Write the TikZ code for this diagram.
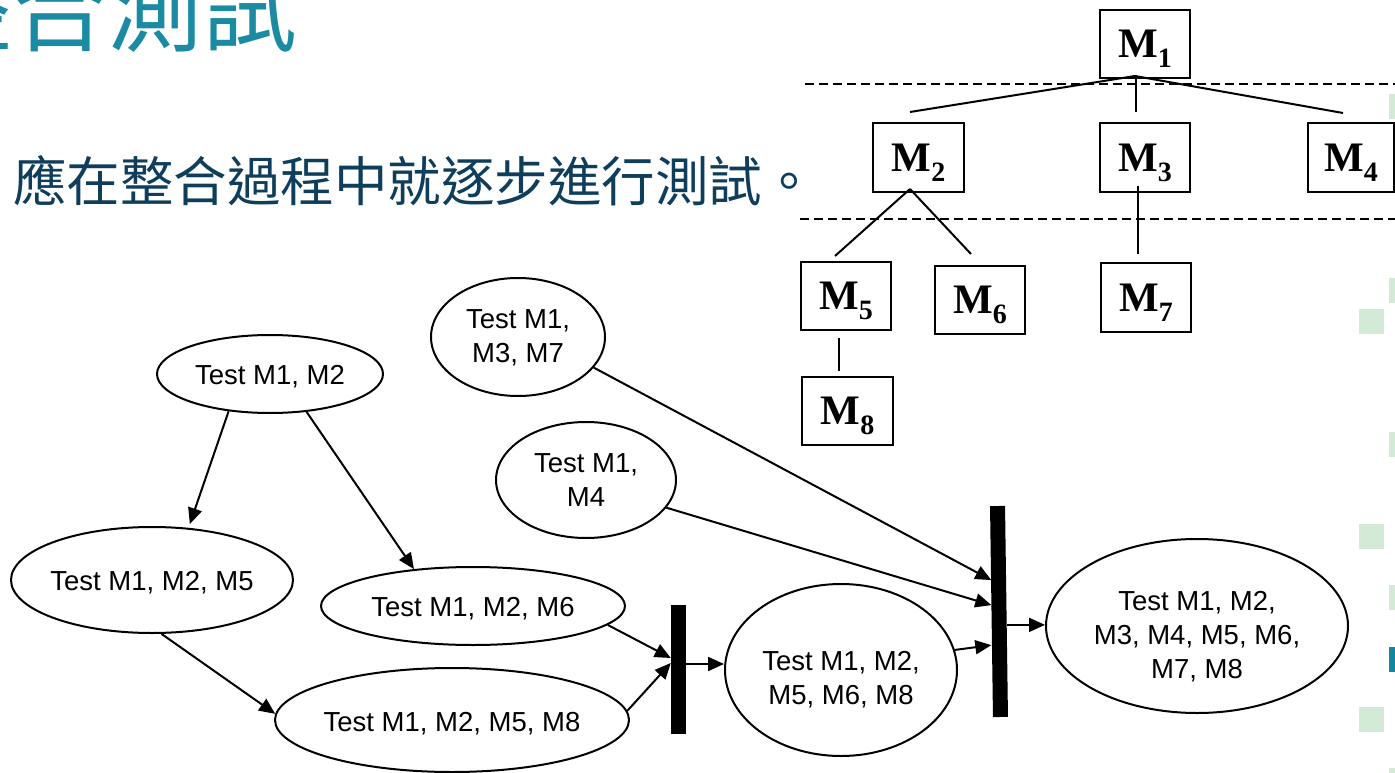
\documentclass[tikz,border=0pt]{standalone}
\usepackage{fontspec}
\setmainfont{Liberation Sans}
\newfontfamily\cjk{Noto Sans CJK TC}
\newfontfamily\tnr{Liberation Serif}
\usetikzlibrary{shapes.geometric,arrows.meta,calc}
\definecolor{titleteal}{HTML}{1A8BA3}
\definecolor{subnavy}{HTML}{0E3E5C}
\definecolor{sqgreen}{HTML}{D3EBD6}
\definecolor{sqteal}{HTML}{13869F}
\newcommand{\et}[2][4pt]{\raisebox{-#1}[\height][\depth]{\makebox[0pt]{\begin{tabular}{@{}c@{}}#2\end{tabular}}}}
\newcommand{\mlab}[1]{{\tnr\bfseries M\smash{\raisebox{-10pt}{\fontsize{28}{28}\selectfont #1}}}}
\begin{document}
\begin{tikzpicture}[x=1pt,y=-1pt,
  ell/.style={ellipse, draw, line width=2pt, inner sep=0pt, font=\fontsize{27.5}{34}\selectfont},
  mbox/.style={draw, line width=2pt, inner sep=0pt, font=\fontsize{42}{48}\selectfont},
  bar/.style={fill=black, inner sep=0pt, minimum width=15pt},
  arr/.style={line width=2pt, -{Triangle[length=16pt,width=14pt]}},
  tline/.style={line width=2pt},
  dline/.style={line width=2pt, dash pattern=on 9pt off 5pt},
]
\useasboundingbox (0,0) rectangle (1395,773);
\clip (0,0) rectangle (1395,773);

% decorative squares on right edge
\foreach \x/\y/\c in {1389/94/sqgreen, 1389/278/sqgreen, 1359/309/sqgreen, 1389/432/sqgreen,
  1359/524/sqgreen, 1389/585/sqgreen, 1389/647/sqteal, 1359/707/sqgreen, 1389/768/sqgreen}
  \fill[\c] (\x,\y) rectangle ++(25,25);

% title and subtitle
\node[anchor=base west, inner sep=0pt, font=\cjk\fontsize{95}{95}\selectfont, text=titleteal] (title) at (-82.5,45) {整合測試};
\node[anchor=base west, inner sep=0pt, font=\cjk\fontsize{53.5}{53.5}\selectfont, text=subnavy] (sub) at (13,201) {應在整合過程中就逐步進行測試。};

% tree
\node[mbox, minimum width=90pt, minimum height=68pt] (m1) at (1145,44) {\mlab{1}};
\node[mbox, minimum width=91pt, minimum height=69pt] (m2) at (918.5,157.5) {\mlab{2}};
\node[mbox, minimum width=90pt, minimum height=69pt] (m3) at (1145,157.5) {\mlab{3}};
\node[mbox, minimum width=86pt, minimum height=69pt] (m4) at (1351,157.5) {\mlab{4}};
\node[mbox, minimum width=90pt, minimum height=68pt] (m5) at (846,296) {\mlab{5}};
\node[mbox, minimum width=90pt, minimum height=68pt] (m6) at (980,300) {\mlab{6}};
\node[mbox, minimum width=90pt, minimum height=69pt] (m7) at (1146,297.5) {\mlab{7}};
\node[mbox, minimum width=91pt, minimum height=68pt] (m8) at (847.5,411) {\mlab{8}};

\coordinate (m1a) at ([xshift=-10pt,yshift=3pt]m1.south);
\draw[tline] (m1a) -- ([xshift=-8.5pt,yshift=10pt]m2.north);
\draw[tline] (m1a) -- ([xshift=-8pt,yshift=9pt]m4.north);
\draw[tline] ([xshift=-9pt]m1.south) -- ([xshift=-9pt,yshift=10pt]m3.north);
\coordinate (m2a) at ([xshift=-8.5pt,yshift=4pt]m2.south);
\draw[tline] (m2a) -- ([xshift=-11pt,yshift=5pt]m5.north);
\draw[tline] (m2a) -- ([xshift=-9pt,yshift=11pt]m6.north);
\draw[tline] ([xshift=-7pt,yshift=7pt]m3.south) -- ([xshift=-8pt,yshift=8pt]m7.north);
\draw[tline] ([xshift=-7pt,yshift=-7pt]m5.south) -- ([xshift=-8.5pt,yshift=5pt]m8.north);

\draw[dline] (805,84) -- (1395,84);
\draw[dline] (800,219) -- (1395,219);

% flow ellipses
\node[ell, minimum width=226pt, minimum height=78pt] (e12) at (270,374) {\et[4pt]{Test M1, M2}};
\node[ell, minimum width=174pt, minimum height=118pt] (e137) at (518,337) {\et[2pt]{Test M1,\\ M3, M7}};
\node[ell, minimum width=180pt, minimum height=116pt] (e14) at (586,480) {\et[3pt]{Test M1,\\ M4}};
\node[ell, minimum width=282pt, minimum height=106pt] (e125) at (152,580) {\et[4pt]{Test M1, M2, M5}};
\node[ell, minimum width=304pt, minimum height=78pt] (e126) at (473,606) {\et[4pt]{Test M1, M2, M6}};
\node[ell, minimum width=354pt, minimum height=104pt] (e1258) at (452,720) {\et[5pt]{Test M1, M2, M5, M8}};
\node[ell, minimum width=232pt, minimum height=172pt] (e12568) at (841,670) {\et[11pt]{Test M1, M2,\\ M5, M6, M8}};
\node[ell, minimum width=302pt, minimum height=174pt] (eall) at (1197,626) {\et[12pt]{Test M1, M2,\\ M3, M4, M5, M6,\\ M7, M8}};

% bars
\node[bar, minimum height=129pt] (bar1) at (678.5,669.5) {};
\node[bar, minimum height=211pt, rotate=0.8] (bar2) at (999,611.5) {};

% arrows
\draw[arr, shorten >=4pt] (e12.222) -- (e125.55);
\draw[arr] (e12.314) -- (e126.148);
\draw[arr] (e125.280) -- (e1258.178);
\draw[arr] (e126.352) -- ([yshift=11.5pt]bar1.west);
\draw[arr] (e1258.3) -- ([yshift=6.5pt]bar1.west);
\coordinate (b1o) at ([yshift=5.5pt]bar1.east);
\draw[arr] (b1o) -- (b1o -| e12568.west);
\draw[arr] (e12568.10) -- ([yshift=-33.5pt]bar2.west);
\draw[arr] (e137.338) -- ([yshift=31.5pt]bar2.west);
\draw[arr] (e14.341) -- ([yshift=6.5pt]bar2.west);
\coordinate (b2o) at ([yshift=-13.5pt]bar2.east);
\draw[arr] (b2o) -- (b2o -| eall.west);
\end{tikzpicture}
\end{document}
